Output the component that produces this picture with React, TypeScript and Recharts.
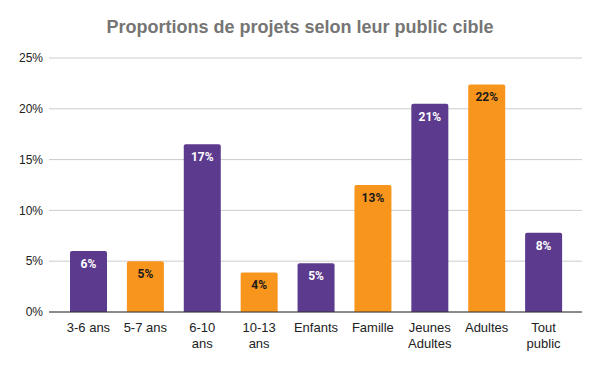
import { Bar, BarChart, CartesianGrid, Cell, LabelList, XAxis, YAxis } from "recharts";

const categories = [
  "3-6 ans",
  "5-7 ans",
  "6-10 ans",
  "10-13 ans",
  "Enfants",
  "Famille",
  "Jeunes Adultes",
  "Adultes",
  "Tout public",
];
const shares = [6.0, 5.0, 16.5, 3.9, 4.8, 12.5, 20.5, 22.4, 7.8];
const barColors = ["purple", "orange", "purple", "orange", "purple", "orange", "purple", "orange", "purple"];
const yTicks = [0, 5, 10, 15, 20, 25];

const PURPLE = "#5c3a8e";
const ORANGE = "#f7951d";

const data = categories.map((name, i) => ({ name, part: shares[i], color: barColors[i] }));

// coupe les libellés longs en deux lignes, comme le graphique d'origine
function XTick(props: any) {
  const { x, y, payload } = props;
  const label: string = payload.value;
  const idx = label.lastIndexOf(" ");
  const lines = label.length > 7 && idx > 0 ? [label.slice(0, idx), label.slice(idx + 1)] : [label];
  return (
    <text x={x} y={y} textAnchor="middle" fill="#222" fontSize={13} fontFamily="'Liberation Sans', Arial, sans-serif">
      {lines.map((l, i) => (
        <tspan key={i} x={x} y={y + 12 + i * 16}>
          {l}
        </tspan>
      ))}
    </text>
  );
}

function BarLabel(props: any) {
  const { x, y, width, value, index } = props;
  const dark = barColors[index] === "purple";
  return (
    <text
      x={x + width / 2}
      y={y + 17}
      textAnchor="middle"
      fill={dark ? "#ffffff" : "#1a1a1a"}
      fontSize={12}
      fontWeight="bold"
      fontFamily="Roboto, sans-serif"
    >
      {Math.round(value)}%
    </text>
  );
}

export default function App() {
  return (
    <div style={{ position: "absolute", left: 0, top: 0, width: 600, height: 371, background: "#fff" }}>
      <div
        style={{
          position: "absolute",
          top: 17,
          left: 0,
          width: 600,
          textAlign: "center",
          fontFamily: "'Liberation Sans', Arial, sans-serif",
          fontWeight: "bold",
          fontSize: 18,
          lineHeight: "20px",
          color: "#757575",
        }}
      >
        Proportions de projets selon leur public cible
      </div>
      <BarChart width={600} height={371} data={data} margin={{ top: 58, right: 18, left: 0, bottom: 0 }}>
        <CartesianGrid vertical={false} stroke="#cccccc" />
        <XAxis
          dataKey="name"
          height={59}
          tick={<XTick />}
          tickLine={false}
          axisLine={{ stroke: "#333333" }}
          interval={0}
          padding={{ left: 11, right: 10 }}
        />
        <YAxis
          width={49}
          domain={[0, 25]}
          ticks={yTicks}
          tickFormatter={(v) => `${v}%`}
          axisLine={false}
          tickLine={false}
          tickSize={4}
          tickMargin={2}
          tick={{ fill: "#222", fontSize: 12, fontFamily: "'Liberation Sans', Arial, sans-serif" }}
        />
        <Bar dataKey="part" barSize={37} radius={[2, 2, 0, 0]} isAnimationActive={false}>
          {data.map((d, i) => (
            <Cell key={`c-${i}`} fill={d.color === "purple" ? PURPLE : ORANGE} />
          ))}
          <LabelList dataKey="part" content={<BarLabel />} />
        </Bar>
      </BarChart>
    </div>
  );
}
